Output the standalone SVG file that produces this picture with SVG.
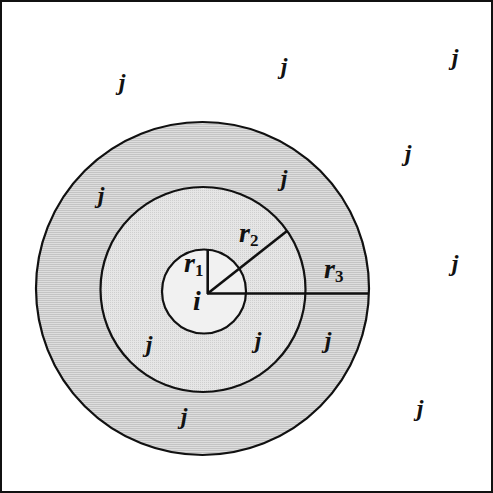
<svg xmlns="http://www.w3.org/2000/svg" width="493" height="493" viewBox="0 0 493 493">
<defs>
<pattern id="hatch" width="4" height="2" patternUnits="userSpaceOnUse">
<rect width="4" height="2" fill="#dedede"/>
<rect width="4" height="1" fill="#c4c4c4"/>
</pattern>
<pattern id="dots" width="2" height="2" patternUnits="userSpaceOnUse">
<rect width="2" height="2" fill="#e6e6e6"/>
<rect width="1" height="1" fill="#cfcfcf"/>
</pattern>
</defs>
<style>
.c{stroke:#111;stroke-width:2.2}
.r{stroke:#111;stroke-width:2.6;fill:none}
text{font-family:"Liberation Serif","DejaVu Serif",serif;font-style:italic;font-weight:bold;fill:#111;font-size:24px;text-anchor:middle}
.b{font-size:28px;text-anchor:start}
.s{font-size:17px;font-style:normal}
</style>
<rect x="1" y="1" width="491" height="491" fill="#fff" stroke="#111" stroke-width="2"/>
<g id="outer"><circle class="c" cx="202.5" cy="288.5" r="166.5" fill="url(#hatch)"/></g>
<g id="middle"><circle class="c" cx="203" cy="289.5" r="102.5" fill="url(#dots)"/></g>
<g id="inner"><circle class="c" cx="204" cy="291.5" r="42" fill="#f1f1f1"/></g>
<g id="radii">
<line class="r" x1="207.7" y1="249.5" x2="207.7" y2="294"/>
<line class="r" x1="207.7" y1="293.5" x2="287" y2="231"/>
<line class="r" x1="207" y1="293.5" x2="369" y2="293.5"/>
</g>
<g id="labels">
<text class="b" x="184" y="272">r<tspan class="s" dy="4">1</tspan></text>
<text class="b" x="239" y="242">r<tspan class="s" dy="4">2</tspan></text>
<text class="b" x="324" y="278">r<tspan class="s" dy="4">3</tspan></text>
<text class="b" x="193" y="310">i</text>
<text x="122" y="90">j</text>
<text x="284" y="74">j</text>
<text x="455" y="65">j</text>
<text x="408" y="161">j</text>
<text x="284" y="186">j</text>
<text x="101" y="203">j</text>
<text x="455" y="271">j</text>
<text x="149" y="352">j</text>
<text x="258" y="348">j</text>
<text x="328" y="348">j</text>
<text x="184" y="424">j</text>
<text x="420" y="416">j</text>
</g>
</svg>
